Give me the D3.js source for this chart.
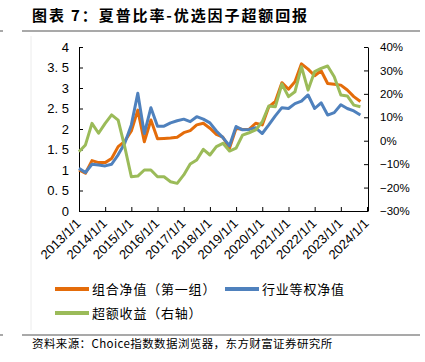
<!DOCTYPE html>
<html>
<head>
<meta charset="utf-8">
<script src="https://cdn.jsdelivr.net/npm/d3@7"></script>
<style>
  body { margin: 0; background: #fff; }
  #canvas { width: 425px; height: 362px; }
  text { font-family: "Liberation Sans", Arial, sans-serif; fill: #000; }
  .cjk { font-family: "Noto Sans CJK SC", sans-serif; }
</style>
</head>
<body>
<div id="canvas" class="canvas"></div>
<script>
// quarterly points, 2013Q1 .. 2023Q4
var dates = ['2013/1/1','2013/4/1','2013/7/1','2013/10/1','2014/1/1','2014/4/1','2014/7/1','2014/10/1',
  '2015/1/1','2015/4/1','2015/7/1','2015/10/1','2016/1/1','2016/4/1','2016/7/1','2016/10/1',
  '2017/1/1','2017/4/1','2017/7/1','2017/10/1','2018/1/1','2018/4/1','2018/7/1','2018/10/1',
  '2019/1/1','2019/4/1','2019/7/1','2019/10/1','2020/1/1','2020/4/1','2020/7/1','2020/10/1',
  '2021/1/1','2021/4/1','2021/7/1','2021/10/1','2022/1/1','2022/4/1','2022/7/1','2022/10/1',
  '2023/1/1','2023/4/1','2023/7/1','2023/10/1'];

var portfolio = [1.00,0.92,1.23,1.18,1.18,1.28,1.57,1.70,1.95,2.46,1.69,2.22,
  1.76,1.77,1.78,1.80,1.91,1.96,2.10,2.14,2.02,1.87,1.80,1.53,
  2.02,1.99,1.99,2.14,2.10,2.54,2.67,3.13,2.97,3.15,3.59,3.46,
  3.30,3.42,3.11,3.09,3.07,2.95,2.79,2.67];

var equalWeight = [1.04,0.94,1.14,1.12,1.10,1.14,1.37,1.65,2.10,2.87,1.89,2.52,
  2.07,2.07,2.15,2.20,2.24,2.18,2.30,2.24,2.15,1.95,1.79,1.59,
  2.06,1.98,1.99,2.03,1.89,2.10,2.32,2.52,2.50,2.62,2.68,2.83,
  2.50,2.64,2.34,2.40,2.59,2.50,2.44,2.34];

// percent, right axis
var excess = [-4.7,-1.8,7.4,3.2,7.4,11.0,8.8,-2.6,-15.4,-15.1,-12.5,-12.5,
  -15.4,-15.4,-17.5,-18.2,-14.6,-9.9,-8.2,-3.7,-6.1,-2.5,-1.1,-4.4,
  -3.2,2.4,3.4,4.6,8.1,14.8,14.5,24.2,18.8,20.9,31.6,21.6,
  29.5,30.9,31.9,27.3,19.5,19.1,15.2,14.5];

var leftTicks = [0,0.5,1,1.5,2,2.5,3,3.5,4];
var rightTicks = [-30,-20,-10,0,10,20,30,40];
var yearTicks = ['2013/1/1','2014/1/1','2015/1/1','2016/1/1','2017/1/1','2018/1/1',
  '2019/1/1','2020/1/1','2021/1/1','2022/1/1','2023/1/1','2024/1/1'];

var seriesNames = ['组合净值（第一组）','行业等权净值','超额收益（右轴）'];
var colors = ['#E46C0A','#4F81BD','#9BBB59'];

var parse = d3.timeParse('%Y/%m/%d');

var m = {t:47,r:57,b:151,l:79},
    W = 425, H = 362,
    w = W - m.l - m.r,
    h = H - m.t - m.b;

var svg = d3.select('.canvas')
    .append('svg')
    .attr('width', W)
    .attr('height', H);

// title + rules
svg.append('text').attr('class','cjk')
    .attr('x', 32).attr('y', 21)
    .style('font-size','15px').style('font-weight','bold')
    .style('letter-spacing','1.9px')
    .text('图表 7：夏普比率-优选因子超额回报');
svg.append('line').attr('x1',22).attr('x2',420).attr('y1',31).attr('y2',31)
    .attr('stroke','#8c8c8c').attr('stroke-width',1.5);
svg.append('line').attr('x1',0).attr('x2',3).attr('y1',31).attr('y2',31)
    .attr('stroke','#8c8c8c').attr('stroke-width',1.5);
svg.append('line').attr('x1',31).attr('x2',31).attr('y1',36).attr('y2',330)
    .attr('stroke','#ececec').attr('stroke-width',1);
svg.append('line').attr('x1',22).attr('x2',420).attr('y1',335).attr('y2',335)
    .attr('stroke','#8c8c8c').attr('stroke-width',1.5);
svg.append('line').attr('x1',0).attr('x2',3).attr('y1',335).attr('y2',335)
    .attr('stroke','#8c8c8c').attr('stroke-width',1.5);
svg.append('text').attr('class','cjk')
    .attr('x', 32).attr('y', 348)
    .style('font-size','11.5px').style('letter-spacing','0.4px')
    .text('资料来源：Choice指数数据浏览器，东方财富证券研究所');

var plot = svg.append('g').attr('class','plot')
    .attr('transform','translate('+ m.l+','+ m.t+')');

var x = d3.scaleTime()
    .domain([parse('2013/1/1'), parse('2024/1/1')])
    .range([0, w - 1]);
var y = d3.scaleLinear().domain([0,4]).range([h, 0]);
var yR = d3.scaleLinear().domain([-30,40]).range([h, 0]);

// axes
var gL = plot.append('g')
    .call(d3.axisLeft(y).tickValues(leftTicks).tickSizeInner(-4).tickSizeOuter(0).tickPadding(10)
        .tickFormat(function(d){ return d === 0 ? '0' : String(d).replace('.', '. '); }));
var gR = plot.append('g').attr('transform','translate('+ w +',0)')
    .call(d3.axisRight(yR).tickValues(rightTicks).tickSizeInner(-4).tickSizeOuter(0).tickPadding(12)
        .tickFormat(function(d){ return d3.format('d')(d) + '%'; }));
var gB = plot.append('g').attr('transform','translate(0,'+ h +')')
    .call(d3.axisBottom(x).tickValues(yearTicks.map(parse)).tickSizeInner(-4).tickSizeOuter(0)
        .tickFormat(d3.timeFormat('%Y/%-m/%-d')));

gL.selectAll('text').style('font-size','13px');
gR.selectAll('text').style('font-size','11.5px');
gB.selectAll('text')
    .style('font-size','13px')
    .style('text-anchor','end')
    .attr('x', 0).attr('y', 0).attr('dy','0.35em')
    .attr('transform','translate(-1,10) rotate(-45)');
plot.selectAll('.domain, .tick line').attr('stroke','#000');

// lines
var rows = dates.map(function(d, i){
    return {date: parse(d), a: portfolio[i], b: equalWeight[i], c: excess[i]};
});

var lineA = d3.line().x(function(d){ return x(d.date); }).y(function(d){ return y(d.a); });
var lineB = d3.line().x(function(d){ return x(d.date); }).y(function(d){ return y(d.b); });
var lineC = d3.line().x(function(d){ return x(d.date); }).y(function(d){ return yR(d.c); });

[lineA, lineB, lineC].forEach(function(l, i){
    plot.append('path')
        .datum(rows)
        .attr('d', l)
        .attr('fill','none')
        .attr('stroke', colors[i])
        .attr('stroke-width', 3)
        .attr('stroke-linejoin','round');
});

// legend
var legendPos = [[55,289],[225,289],[55,313]];
seriesNames.forEach(function(name, i){
    var g = svg.append('g')
        .attr('transform','translate('+ legendPos[i][0] +','+ legendPos[i][1] +')');
    g.append('line').attr('x1',0).attr('x2',34).attr('y1',0).attr('y2',0)
        .attr('stroke', colors[i]).attr('stroke-width',4);
    g.append('text').attr('class','cjk')
        .attr('x', 37).attr('y', 0).attr('dy','0.36em')
        .style('font-size','13px').style('letter-spacing','0.8px')
        .text(name);
});
</script>
</body>
</html>
